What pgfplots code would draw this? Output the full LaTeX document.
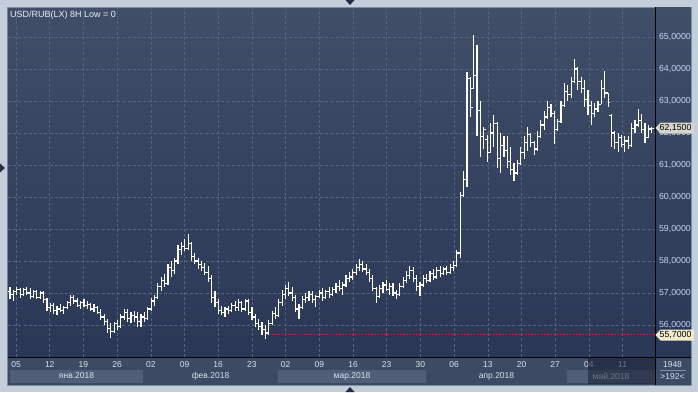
\documentclass[border=0pt]{standalone}
\usepackage{pgfplots}
\pgfplotsset{compat=1.18}
\usepackage{pgfplotstable}
\usepackage{fontspec}
\setmainfont{Liberation Sans}
\definecolor{frame}{RGB}{196,206,218}
\definecolor{bgtop}{RGB}{64,78,104}
\definecolor{bgbot}{RGB}{42,55,86}
\definecolor{gridc}{RGB}{84,99,128}
\definecolor{strip}{RGB}{60,74,100}
\definecolor{band}{RGB}{80,94,120}
\definecolor{ylab}{RGB}{196,214,240}
\definecolor{xlab}{RGB}{218,226,238}
\definecolor{redl}{RGB}{205,30,30}
\definecolor{tri}{RGB}{34,46,70}
\pgfdeclareplotmark{otick}{\pgfpathmoveto{\pgfqpoint{-2.3pt}{0pt}}\pgfpathlineto{\pgfqpoint{0pt}{0pt}}\pgfusepathqstroke}
\pgfdeclareplotmark{ctick}{\pgfpathmoveto{\pgfqpoint{0pt}{0pt}}\pgfpathlineto{\pgfqpoint{2.3pt}{0pt}}\pgfusepathqstroke}
\pgfplotstableread{
i o h l c
0 57.05 57.20 56.80 56.95
1 56.95 57.10 56.75 57.05
2 57.05 57.20 56.95 57.10
3 57.10 57.15 56.85 56.95
4 56.95 57.15 56.90 57.10
5 57.10 57.20 56.95 57.00
6 57.00 57.15 56.80 56.90
7 56.90 57.10 56.85 57.05
8 57.05 57.10 56.80 56.85
9 56.85 57.05 56.80 57.00
10 57.00 57.05 56.70 56.80
11 56.80 56.85 56.45 56.55
12 56.55 56.70 56.40 56.60
13 56.60 56.70 56.35 56.45
14 56.45 56.60 56.30 56.50
15 56.50 56.65 56.40 56.45
16 56.45 56.60 56.35 56.55
17 56.55 56.75 56.50 56.70
18 56.70 56.95 56.60 56.85
19 56.85 56.95 56.65 56.75
20 56.75 56.85 56.55 56.60
21 56.60 56.75 56.50 56.70
22 56.70 56.80 56.55 56.60
23 56.60 56.75 56.50 56.65
24 56.65 56.70 56.45 56.50
25 56.50 56.65 56.40 56.55
26 56.55 56.60 56.35 56.40
27 56.40 56.50 56.15 56.25
28 56.25 56.35 56.00 56.10
29 56.10 56.20 55.75 55.90
30 55.90 56.05 55.60 55.80
31 55.80 56.10 55.75 56.05
32 56.05 56.15 55.85 55.95
33 55.95 56.35 55.90 56.25
34 56.25 56.50 56.15 56.40
35 56.40 56.50 56.10 56.20
36 56.20 56.40 56.05 56.30
37 56.30 56.45 56.10 56.25
38 56.25 56.40 55.95 56.10
39 56.10 56.35 55.95 56.25
40 56.25 56.40 56.10 56.20
41 56.20 56.55 56.15 56.50
42 56.50 56.85 56.45 56.75
43 56.75 56.95 56.60 56.85
44 56.85 57.30 56.80 57.20
45 57.20 57.50 57.05 57.40
46 57.40 57.60 57.20 57.30
47 57.30 57.90 57.25 57.80
48 57.80 58.00 57.50 57.70
49 57.70 58.10 57.60 58.00
50 58.00 58.50 57.90 58.35
51 58.35 58.60 58.20 58.45
52 58.45 58.70 58.30 58.40
53 58.40 58.85 58.35 58.55
54 58.55 58.60 58.00 58.15
55 58.15 58.25 57.90 58.00
56 58.00 58.10 57.75 57.90
57 57.90 58.00 57.70 57.80
58 57.80 57.95 57.55 57.65
59 57.65 57.85 57.35 57.45
60 57.45 57.55 56.70 56.85
61 56.85 57.05 56.55 56.70
62 56.70 56.80 56.35 56.45
63 56.45 56.60 56.30 56.40
64 56.40 56.55 56.25 56.50
65 56.50 56.60 56.35 56.45
66 56.45 56.70 56.40 56.60
67 56.60 56.75 56.45 56.55
68 56.55 56.80 56.45 56.70
69 56.70 56.75 56.40 56.50
70 56.50 56.80 56.45 56.75
71 56.75 56.80 56.30 56.40
72 56.40 56.55 56.15 56.25
73 56.25 56.35 55.95 56.05
74 56.05 56.20 55.85 55.95
75 55.95 56.10 55.70 55.85
76 55.85 56.00 55.55 55.75
77 55.75 56.15 55.70 56.05
78 56.05 56.45 56.00 56.35
79 56.35 56.55 56.20 56.30
80 56.30 56.80 56.25 56.70
81 56.70 57.10 56.60 56.95
82 56.95 57.25 56.80 57.15
83 57.15 57.35 56.90 57.00
84 57.00 57.20 56.75 56.85
85 56.85 56.95 56.40 56.50
86 56.50 56.65 56.20 56.55
87 56.55 56.90 56.50 56.80
88 56.80 57.00 56.70 56.85
89 56.85 57.05 56.75 56.95
90 56.95 57.05 56.70 56.80
91 56.80 56.95 56.55 56.90
92 56.90 57.10 56.85 57.00
93 57.00 57.15 56.75 56.85
94 56.85 57.10 56.80 57.05
95 57.05 57.20 56.85 56.95
96 56.95 57.20 56.90 57.10
97 57.10 57.30 57.00 57.20
98 57.20 57.40 57.05 57.15
99 57.15 57.35 56.95 57.25
100 57.25 57.55 57.20 57.45
101 57.45 57.65 57.35 57.50
102 57.50 57.75 57.40 57.65
103 57.65 57.90 57.55 57.80
104 57.80 58.05 57.70 57.90
105 57.90 58.00 57.65 57.75
106 57.75 57.90 57.55 57.65
107 57.65 57.75 57.35 57.45
108 57.45 57.55 57.05 57.15
109 57.15 57.20 56.70 56.90
110 56.90 57.25 56.85 57.15
111 57.15 57.35 57.00 57.25
112 57.25 57.40 57.05 57.10
113 57.10 57.30 56.95 57.20
114 57.20 57.30 56.90 57.00
115 57.00 57.10 56.80 56.95
116 56.95 57.30 56.90 57.20
117 57.20 57.50 57.15 57.40
118 57.40 57.70 57.30 57.55
119 57.55 57.85 57.45 57.70
120 57.70 57.80 57.35 57.45
121 57.45 57.55 57.05 57.20
122 57.20 57.35 56.90 57.25
123 57.25 57.55 57.20 57.45
124 57.45 57.60 57.30 57.40
125 57.40 57.70 57.35 57.60
126 57.60 57.75 57.40 57.50
127 57.50 57.80 57.45 57.70
128 57.70 57.85 57.50 57.60
129 57.60 57.80 57.55 57.75
130 57.75 57.85 57.55 57.65
131 57.65 57.90 57.60 57.80
132 57.80 58.00 57.70 57.85
133 57.85 58.35 57.80 58.25
134 58.25 60.15 58.10 60.05
135 60.05 60.80 60.00 60.55
136 60.55 63.90 60.30 63.70
137 63.70 63.75 62.50 62.80
138 63.40 65.05 63.40 63.80
139 63.80 64.75 61.90 62.70
140 62.70 63.00 61.25 61.90
141 61.90 62.20 61.50 62.10
142 61.80 61.95 61.10 61.40
143 61.40 62.30 61.40 62.00
144 62.00 62.55 61.55 62.30
145 62.30 62.35 60.90 61.20
146 61.20 62.00 60.75 61.60
147 61.60 61.90 61.25 61.45
148 61.45 61.90 60.90 61.10
149 61.10 61.55 60.70 60.85
150 60.85 61.05 60.50 60.75
151 60.75 61.15 60.70 61.05
152 61.05 61.55 61.00 61.40
153 61.40 61.90 61.20 61.70
154 61.70 62.20 61.45 61.95
155 61.95 62.00 61.55 61.70
156 61.70 61.75 61.30 61.50
157 61.50 62.05 61.45 61.90
158 61.90 62.40 61.85 62.25
159 62.25 62.70 62.10 62.50
160 62.50 63.00 62.45 62.80
161 62.80 62.90 62.50 62.60
162 62.60 62.70 61.65 62.10
163 62.10 62.45 62.05 62.35
164 62.35 63.00 62.30 62.85
165 62.85 63.55 62.80 63.30
166 63.30 63.50 63.00 63.20
167 63.20 63.75 63.10 63.60
168 63.60 64.30 63.55 64.00
169 64.00 64.05 63.35 63.60
170 63.60 63.75 63.25 63.40
171 63.40 63.65 62.80 63.05
172 63.05 63.35 62.55 62.85
173 62.85 63.00 62.25 62.60
174 62.60 62.95 62.50 62.75
175 62.75 63.00 62.65 62.90
176 62.90 63.65 62.90 63.40
177 63.40 63.95 63.10 63.25
178 63.25 63.25 62.80 62.95
179 62.55 62.60 61.55 62.00
180 62.00 62.05 61.50 61.70
181 61.70 62.00 61.40 61.85
182 61.85 61.95 61.55 61.65
183 61.65 61.90 61.40 61.75
184 61.75 61.90 61.50 61.60
185 61.60 62.30 61.55 62.15
186 62.15 62.40 62.00 62.25
187 62.25 62.75 62.20 62.40
188 62.40 62.60 62.00 62.10
189 62.10 62.30 61.70 61.85
190 61.85 62.25 61.85 62.15
191 62.10 62.20 62.00 62.15
}\bars
\begin{document}
\begin{tikzpicture}[x=1pt,y=1pt]
% outer frame
\fill[frame] (0,0) rectangle (698,392);
\draw[color={rgb,255:red,128;green,142;blue,164}, line width=0.8pt] (7,7) rectangle (691,385);
% right price panel
\shade[top color=bgtop, bottom color=bgbot] (655,35) rectangle (690.6,384);
% bottom date strip
\fill[strip] (7.5,7.5) rectangle (690.6,35);
\fill[band] (10,9) rectangle (143,22);
\fill[band] (278,9) rectangle (426,22);
\fill[band] (567,9) rectangle (655,22);
% bottom-right counter box
\draw[color={rgb,255:red,130;green,146;blue,172}, line width=0.6pt] (660,21.5) -- (686,21.5);
\node[font=\fontsize{8.5}{10}\selectfont, text=xlab] at (672.5,27) {1948};
\node[font=\fontsize{8.5}{10}\selectfont, text=xlab] at (672.5,15.5) {>192<};
\begin{axis}[
  at={(8pt,35pt)}, anchor=south west,
  width=647pt, height=349pt, scale only axis,
  xmin=-0.6, xmax=191.96, ymin=55, ymax=65.90625,
  axis background/.style={top color=bgtop, bottom color=bgbot},
  axis line style={draw=none},
  xtick={1.79,11.82,21.85,31.88,41.90,51.93,61.96,71.99,82.02,92.05,102.08,112.11,122.14,132.17,142.20,152.23,162.26,172.29,182.32},
  xticklabels={05,12,19,26,02,09,16,23,02,09,16,23,30,06,13,20,27,04,11},
  ytick={56,57,58,59,60,61,62,63,64,65},
  yticklabel pos=right,
  grid=major,
  major grid style={draw=gridc, line width=0.6pt, dash pattern=on 3pt off 2.2pt},
  major tick length=0pt,
  xticklabel style={font=\fontsize{8.5}{10}\selectfont, text=xlab, anchor=center, yshift=-8pt},
  yticklabel style={font=\fontsize{8.8}{10}\selectfont, text=ylab, anchor=west, xshift=0.5pt,
    /pgf/number format/fixed, /pgf/number format/fixed zerofill,
    /pgf/number format/precision=4, /pgf/number format/use comma,
    /pgf/number format/assume math mode=true},
]
\addplot[draw=none, mark=none, forget plot,
  error bars/.cd, y dir=both, y explicit, error mark=none,
  error bar style={draw=white, line width=1.15pt}]
  table[x=i, y expr=(\thisrow{h}+\thisrow{l})/2,
        y error plus expr=(\thisrow{h}-\thisrow{l})/2,
        y error minus expr=(\thisrow{h}-\thisrow{l})/2] {\bars};
\addplot[only marks, mark=otick, mark options={draw=white, line width=1.15pt}] table[x=i, y=o] {\bars};
\addplot[only marks, mark=ctick, mark options={draw=white, line width=1.15pt}] table[x=i, y=c] {\bars};
\addplot[redl, line width=1.2pt, dash pattern=on 1.6pt off 1.6pt] coordinates {(78,55.7) (192,55.7)};
\end{axis}
% frame lines
\draw[black, line width=1pt] (655,7.5) -- (655,384.5);
\draw[black, line width=1pt] (7.5,35) -- (690.6,35);
% month labels
\node[font=\fontsize{8.5}{10}\selectfont, text=xlab] at (76.5,16) {янв.2018};
\node[font=\fontsize{8.5}{10}\selectfont, text=xlab] at (210.5,16) {фев.2018};
\node[font=\fontsize{8.5}{10}\selectfont, text=xlab] at (352,16) {мар.2018};
\node[font=\fontsize{8.5}{10}\selectfont, text=xlab] at (496.5,16) {апр.2018};
\node[font=\fontsize{8.5}{10}\selectfont, text=xlab] at (611,16) {май.2018};
% dim overlay on the unfinished period
\fill[color={rgb,255:red,22;green,30;blue,50}, opacity=0.55] (588,8) rectangle (654.5,34.5);
% title
\node[font=\fontsize{9}{11}\selectfont, text={rgb,255:red,235;green,240;blue,248}, anchor=west, inner sep=0pt] at (10,377) {USD/RUB(LX) 8H Low = 0};
% price markers
\fill[color={rgb,255:red,214;green,214;blue,206}] (655.5,264) -- (660.5,269.5) -- (694,269.5) -- (694,258.5) -- (660.5,258.5) -- cycle;
\node[font=\fontsize{8.8}{10}\selectfont, text=black, anchor=west, inner sep=0pt] at (659.5,264) {62,1500};
\fill[color={rgb,255:red,242;green,236;blue,204}] (655.5,57) -- (660.5,62.5) -- (694,62.5) -- (694,51.5) -- (660.5,51.5) -- cycle;
\node[font=\fontsize{8.8}{10}\selectfont, text=black, anchor=west, inner sep=0pt] at (659.5,57) {55,7000};
% small navigation triangles
\fill[tri] (345.5,392) -- (354.5,392) -- (350,387) -- cycle;
\fill[tri] (345.5,0) -- (354.5,0) -- (350,5) -- cycle;
\fill[tri] (0,228.5) -- (0,219.5) -- (5,224) -- cycle;
\end{tikzpicture}
\end{document}
